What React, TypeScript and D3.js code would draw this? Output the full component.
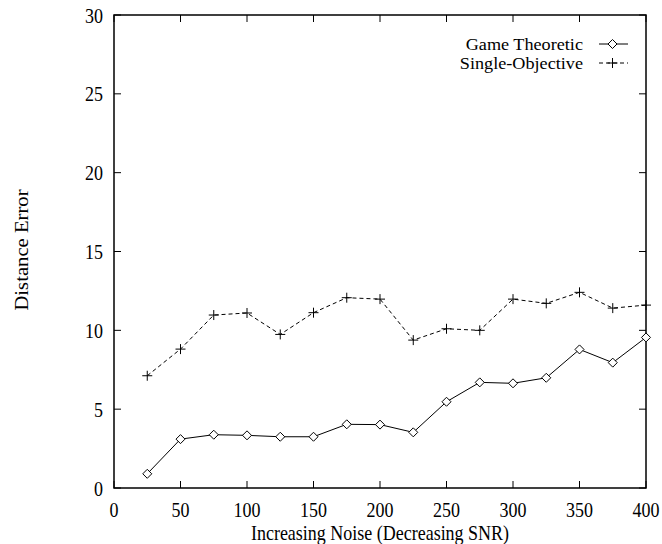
import React from 'react';
import * as d3 from 'd3';

const width = 662;
const height = 544;
const margin = { top: 15, right: 16, bottom: 56, left: 114 };

const noise = [25, 50, 75, 100, 125, 150, 175, 200, 225, 250, 275, 300, 325, 350, 375, 400];
const gameTheoretic = [0.9, 3.1, 3.38, 3.34, 3.25, 3.25, 4.04, 4.02, 3.53, 5.47, 6.7, 6.64, 6.99, 8.79, 7.95, 9.55];
const singleObjective = [7.12, 8.81, 10.97, 11.1, 9.74, 11.12, 12.07, 11.98, 9.38, 10.1, 10.0, 11.98, 11.71, 12.41, 11.41, 11.6];
const xTicks = [0, 50, 100, 150, 200, 250, 300, 350, 400];
const yTicks = [0, 5, 10, 15, 20, 25, 30];
const seriesNames = ['Game Theoretic', 'Single-Objective'];

const font = '"Liberation Serif", "DejaVu Serif", serif';
const tickLen = 7;
// the reference text looks stretched vertically
const stretch = 1.15;

function T({ x, y, anchor, rotate, children }: { x: number; y: number; anchor: string; rotate?: number; children: React.ReactNode }) {
  return (
    <text
      transform={`translate(${x},${y}) scale(1,${stretch})${rotate ? ` rotate(${rotate})` : ''}`}
      textAnchor={anchor}
    >
      {children}
    </text>
  );
}

function Diamond({ x, y }: { x: number; y: number }) {
  const r = 4.5;
  return (
    <path
      d={`M${x},${y - r}L${x + r},${y}L${x},${y + r}L${x - r},${y}Z`}
      fill="white"
      stroke="black"
      strokeWidth={1}
    />
  );
}

function Plus({ x, y }: { x: number; y: number }) {
  const r = 5;
  return (
    <path d={`M${x - r},${y}H${x + r}M${x},${y - r}V${y + r}`} stroke="black" strokeWidth={1} />
  );
}

export default function App() {
  const x = d3.scaleLinear().domain([0, 400]).range([margin.left, width - margin.right]);
  const y = d3.scaleLinear().domain([0, 30]).range([height - margin.bottom, margin.top]);
  const [x0, x1] = x.range();
  const [y0, y1] = y.range();

  const line = d3.line<number>().x((d, i) => x(noise[i])).y(d => y(d));

  const legendX1 = 599;
  const legendX2 = 628;
  const legendMid = (legendX1 + legendX2) / 2;
  const legendY = [44, 63];

  return (
    <svg width={width} height={height} style={{ position: 'absolute', left: 0, top: 0 }}>
      <rect width={width} height={height} fill="white" />
      <g stroke="black" strokeWidth={1}>
        {xTicks.map(t => (
          <g key={'x' + t}>
            <line x1={x(t)} x2={x(t)} y1={y0} y2={y0 - tickLen} />
            <line x1={x(t)} x2={x(t)} y1={y1} y2={y1 + tickLen} />
          </g>
        ))}
        {yTicks.map(t => (
          <g key={'y' + t}>
            <line x1={x0} x2={x0 + tickLen} y1={y(t)} y2={y(t)} />
            <line x1={x1} x2={x1 - tickLen} y1={y(t)} y2={y(t)} />
          </g>
        ))}
      </g>
      <rect x={x0} y={y1} width={x1 - x0} height={y0 - y1} fill="none" stroke="black" strokeWidth={1.5} />

      <g fontFamily={font} fontSize={18} fill="black">
        {xTicks.map(t => (
          <T key={'xl' + t} x={x(t)} y={y0 + 28.5} anchor="middle">{t}</T>
        ))}
        {yTicks.map(t => (
          <T key={'yl' + t} x={x0 - 11} y={y(t) + 7.5} anchor="end">{t}</T>
        ))}
        <T x={380} y={540} anchor="middle">Increasing Noise (Decreasing SNR)</T>
        <T x={28} y={250} anchor="middle" rotate={-90}>Distance Error</T>
      </g>

      <path d={line(gameTheoretic) || ''} fill="none" stroke="black" strokeWidth={1} />
      <path d={line(singleObjective) || ''} fill="none" stroke="black" strokeWidth={1} strokeDasharray="4,3" />
      {gameTheoretic.map((d, i) => (
        <Diamond key={'gt' + i} x={x(noise[i])} y={y(d)} />
      ))}
      {singleObjective.map((d, i) => (
        <Plus key={'so' + i} x={x(noise[i])} y={y(d)} />
      ))}

      {seriesNames.map((s, i) => (
        <g key={s}>
          <text
            transform={`translate(583,${legendY[i] + 6}) scale(1.07,1)`}
            textAnchor="end"
            fontFamily={font}
            fontSize={17}
            fill="black"
          >
            {s}
          </text>
          <line
            x1={legendX1}
            x2={legendX2}
            y1={legendY[i]}
            y2={legendY[i]}
            stroke="black"
            strokeWidth={1}
            strokeDasharray={i === 0 ? undefined : '4,3'}
          />
          {i === 0 ? <Diamond x={legendMid - 1} y={legendY[i]} /> : <Plus x={legendMid - 1} y={legendY[i]} />}
        </g>
      ))}
    </svg>
  );
}
